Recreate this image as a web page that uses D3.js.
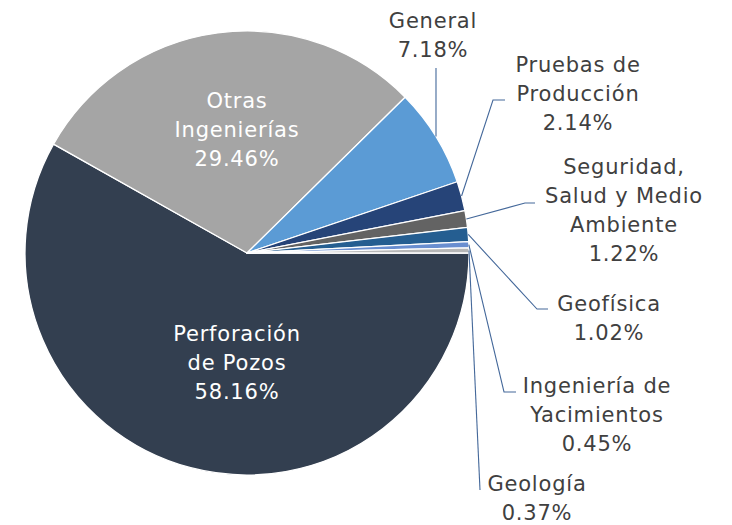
<!DOCTYPE html>
<html><head><meta charset="utf-8">
<script src="https://cdn.jsdelivr.net/npm/d3@7"></script>
<style>body{margin:0;background:#fff}svg{display:block}</style>
</head><body>
<svg id="c" width="732" height="525"></svg>
<script>
const categories = ["Perforación de Pozos","Otras Ingenierías","General","Pruebas de Producción","Seguridad, Salud y Medio Ambiente","Geofísica","Ingeniería de Yacimientos","Geología"];
const values = [58.16,29.46,7.18,2.14,1.22,1.02,0.45,0.37];
const labelLines = [["Perforación","de Pozos"],["Otras","Ingenierías"],["General"],["Pruebas de","Producción"],["Seguridad,","Salud y Medio","Ambiente"],["Geofísica"],["Ingeniería de","Yacimientos"],["Geología"]];
const colors = ["#333F50","#A5A5A5","#5B9BD5","#264478","#636363","#255E91","#698ED0","#B7B7B7"];

// layout (positions only)
const cx = 247, cy = 253, R = 222, LH = 29;
const layout = [
  {inside:true, x:237, y:333},
  {inside:true, x:237, y:100},
  {x:433, y:20, pts:[[null,68]]},
  {x:578, y:64, pts:[[493,100],[505,100]]},
  {x:624, y:166, pts:[[525,203],[535,203]]},
  {x:609, y:303, pts:[[537,309],[548,309]]},
  {x:597, y:385, pts:[[504,392],[516,392]]},
  {x:537, y:483, pts:[[480,490]]}
];

const svg = d3.select("#c");
const g = svg.append("g").attr("transform",`translate(${cx},${cy})`);
const pie = d3.pie().sort(null).value(d=>d).startAngle(Math.PI/2).endAngle(Math.PI/2+2*Math.PI);
const arcs = pie(values);
const arc = d3.arc().innerRadius(0).outerRadius(R);
g.selectAll("path.s").data(arcs).join("path").attr("class","s")
  .attr("d",arc).attr("fill",(d,i)=>colors[i]).attr("stroke","#fff").attr("stroke-width",1.3).attr("stroke-linejoin","round");

const fmt = v => v.toFixed(2)+"%";
arcs.forEach((a,i)=>{
  const L = layout[i];
  const lines = labelLines[i].concat([fmt(values[i])]);
  if(!L.inside){
    const mid = (a.startAngle+a.endAngle)/2;
    const sx = cx + R*Math.sin(mid), sy = cy - R*Math.cos(mid);
    const pts = [[sx,sy]].concat(L.pts.map(p=>[p[0]==null?sx:p[0],p[1]]));
    svg.append("path").attr("d",d3.line()(pts)).attr("fill","none").attr("stroke","#44689a").attr("stroke-width",1.1);
  }
  const t = svg.append("text").attr("text-anchor","middle")
    .attr("font-family","DejaVu Sans, sans-serif").attr("font-size",21)
    .attr("letter-spacing","0.8px")
    .attr("fill", L.inside ? "#ffffff" : "#404040");
  lines.forEach((s,k)=>{
    t.append("tspan").attr("x",L.x).attr("y",L.y+k*LH).attr("dy","0.36em").text(s);
  });
});
</script>
</body></html>
